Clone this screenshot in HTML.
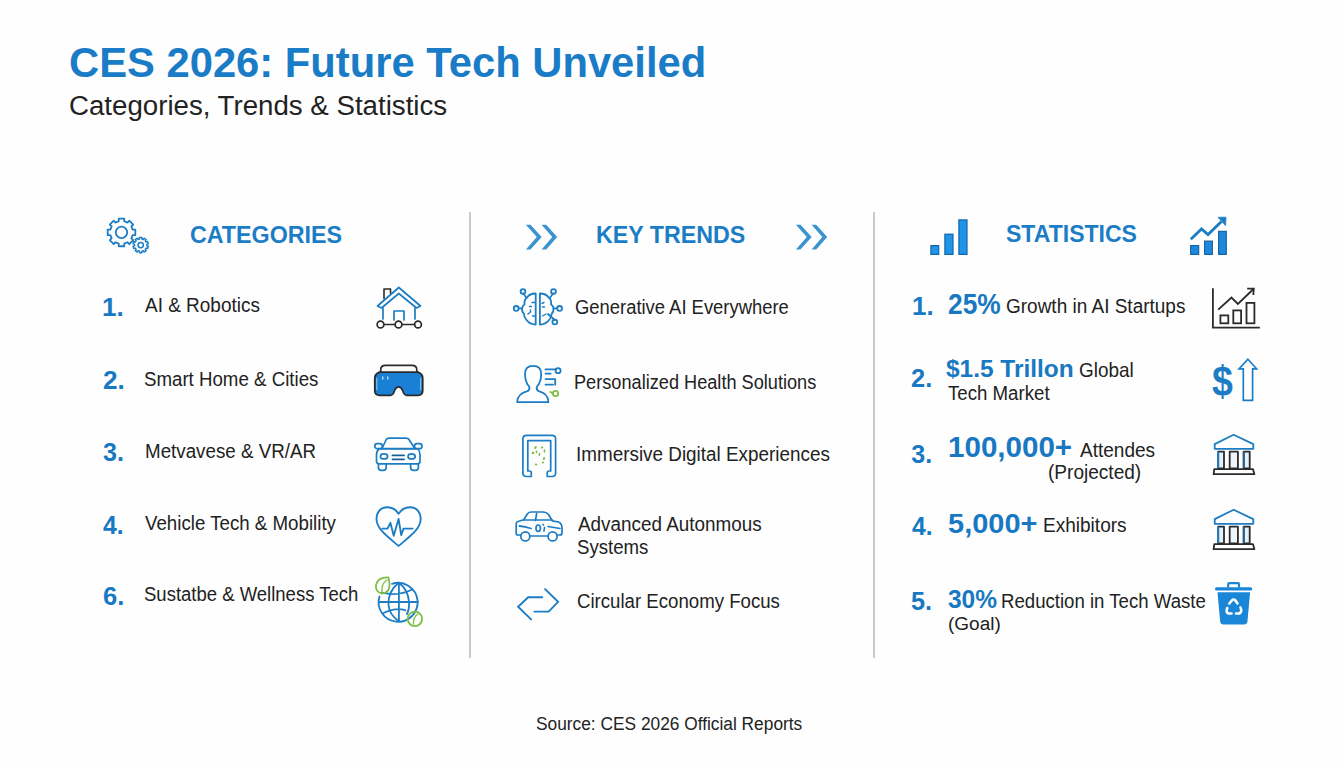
<!DOCTYPE html>
<html><head><meta charset="utf-8"><title>CES 2026: Future Tech Unveiled</title>
<style>
html,body{margin:0;padding:0;}
body{width:1344px;height:768px;overflow:hidden;position:relative;background:#fefefe;font-family:"Liberation Sans",sans-serif;}
.t{position:absolute;white-space:nowrap;line-height:1;transform-origin:0 0;}
.vl{position:absolute;width:2px;background:#cbcbcb;}
svg{position:absolute;left:0;top:0;}
</style></head>
<body>
<div class="vl" style="left:469px;top:212px;height:446px"></div>
<div class="vl" style="left:873px;top:212px;height:446px"></div>
<div class="t" style="left:68.85px;top:41.00px;font-size:43px;font-weight:bold;color:#1a7cc6;transform:scaleX(0.9709)">CES 2026: Future Tech Unveiled</div>
<div class="t" style="left:68.63px;top:91.43px;font-size:28.2px;font-weight:normal;color:#222222;transform:scaleX(0.9812)">Categories, Trends &amp; Statistics</div>
<div class="t" style="left:189.85px;top:222.55px;font-size:24.4px;font-weight:bold;color:#1b7dc6;transform:scaleX(0.9530)">CATEGORIES</div>
<div class="t" style="left:596.48px;top:222.55px;font-size:24.4px;font-weight:bold;color:#1b7dc6;transform:scaleX(0.9521)">KEY TRENDS</div>
<div class="t" style="left:1005.64px;top:222.35px;font-size:24.4px;font-weight:bold;color:#1b7dc6;transform:scaleX(0.9446)">STATISTICS</div>
<div class="t" style="left:102.43px;top:294.84px;font-size:25px;font-weight:bold;color:#1879c2;transform:scaleX(1.0452)">1.</div>
<div class="t" style="left:102.91px;top:367.59px;font-size:25px;font-weight:bold;color:#1879c2;transform:scaleX(1.0462)">2.</div>
<div class="t" style="left:103.25px;top:439.84px;font-size:25px;font-weight:bold;color:#1879c2;transform:scaleX(1.0027)">3.</div>
<div class="t" style="left:103.45px;top:512.59px;font-size:25px;font-weight:bold;color:#1879c2;transform:scaleX(0.9921)">4.</div>
<div class="t" style="left:102.83px;top:583.84px;font-size:25px;font-weight:bold;color:#1879c2;transform:scaleX(1.0246)">6.</div>
<div class="t" style="left:144.80px;top:296.41px;font-size:19.6px;font-weight:normal;color:#222222;transform:scaleX(0.9678)">AI &amp; Robotics</div>
<div class="t" style="left:144.24px;top:370.21px;font-size:19.6px;font-weight:normal;color:#222222;transform:scaleX(0.9532)">Smart Home &amp; Cities</div>
<div class="t" style="left:144.77px;top:441.71px;font-size:19.6px;font-weight:normal;color:#222222;transform:scaleX(0.9574)">Metvavese &amp; VR/AR</div>
<div class="t" style="left:145.00px;top:513.71px;font-size:19.6px;font-weight:normal;color:#222222;transform:scaleX(0.9545)">Vehicle Tech &amp; Mobility</div>
<div class="t" style="left:144.24px;top:585.21px;font-size:19.6px;font-weight:normal;color:#222222;transform:scaleX(0.9444)">Sustatbe &amp; Wellness Tech</div>
<div class="t" style="left:574.90px;top:297.96px;font-size:19.6px;font-weight:normal;color:#222222;transform:scaleX(0.9392)">Generative AI Everywhere</div>
<div class="t" style="left:574.27px;top:372.96px;font-size:19.6px;font-weight:normal;color:#222222;transform:scaleX(0.9269)">Personalized Health Solutions</div>
<div class="t" style="left:575.77px;top:445.21px;font-size:19.6px;font-weight:normal;color:#222222;transform:scaleX(0.9632)">Immersive Digital Experiences</div>
<div class="t" style="left:577.50px;top:515.21px;font-size:19.6px;font-weight:normal;color:#222222;transform:scaleX(0.9632)">Advanced Autonmous</div>
<div class="t" style="left:576.74px;top:537.96px;font-size:19.6px;font-weight:normal;color:#222222;transform:scaleX(0.9500)">Systems</div>
<div class="t" style="left:576.64px;top:592.21px;font-size:19.6px;font-weight:normal;color:#222222;transform:scaleX(0.9509)">Circular Economy Focus</div>
<div class="t" style="left:911.64px;top:293.84px;font-size:25px;font-weight:bold;color:#1879c2;transform:scaleX(1.0395)">1.</div>
<div class="t" style="left:910.99px;top:366.24px;font-size:25px;font-weight:bold;color:#1879c2;transform:scaleX(1.0163)">2.</div>
<div class="t" style="left:911.30px;top:441.54px;font-size:25px;font-weight:bold;color:#1879c2;transform:scaleX(1.0000)">3.</div>
<div class="t" style="left:911.50px;top:514.34px;font-size:25px;font-weight:bold;color:#1879c2;transform:scaleX(0.9894)">4.</div>
<div class="t" style="left:911.09px;top:588.84px;font-size:25px;font-weight:bold;color:#1879c2;transform:scaleX(1.0108)">5.</div>
<div class="t" style="left:947.97px;top:289.99px;font-size:28.6px;font-weight:bold;color:#1879c2;transform:scaleX(0.9209)">25%</div>
<div class="t" style="left:946.29px;top:357.72px;font-size:23.6px;font-weight:bold;color:#1879c2;transform:scaleX(1.0362)">$1.5 Trillon</div>
<div class="t" style="left:947.77px;top:432.75px;font-size:29px;font-weight:bold;color:#1879c2;transform:scaleX(1.0194)">100,000+</div>
<div class="t" style="left:947.97px;top:509.60px;font-size:28px;font-weight:bold;color:#1879c2;transform:scaleX(1.0355)">5,000+</div>
<div class="t" style="left:947.74px;top:585.82px;font-size:26.2px;font-weight:bold;color:#1879c2;transform:scaleX(0.9355)">30%</div>
<div class="t" style="left:1006.03px;top:296.51px;font-size:19.6px;font-weight:normal;color:#222222;transform:scaleX(0.9690)">Growth in AI Startups</div>
<div class="t" style="left:1078.54px;top:360.54px;font-size:19.8px;font-weight:normal;color:#222222;transform:scaleX(0.9564)">Global</div>
<div class="t" style="left:948.42px;top:383.91px;font-size:19.6px;font-weight:normal;color:#222222;transform:scaleX(0.9520)">Tech Market</div>
<div class="t" style="left:1080.20px;top:440.91px;font-size:19.6px;font-weight:normal;color:#222222;transform:scaleX(0.9713)">Attendes</div>
<div class="t" style="left:1047.63px;top:463.01px;font-size:19.6px;font-weight:normal;color:#222222;transform:scaleX(0.9722)">(Projected)</div>
<div class="t" style="left:1043.05px;top:516.21px;font-size:19.6px;font-weight:normal;color:#222222;transform:scaleX(0.9714)">Exhibitors</div>
<div class="t" style="left:1000.68px;top:591.51px;font-size:19.6px;font-weight:normal;color:#222222;transform:scaleX(0.9498)">Reduction in Tech Waste</div>
<div class="t" style="left:947.71px;top:614.15px;font-size:19.2px;font-weight:normal;color:#222222;transform:scaleX(0.9902)">(Goal)</div>
<div class="t" style="left:1212.46px;top:360.20px;font-size:43px;font-weight:bold;color:#1c7dc4;transform:scaleX(0.8734)">$</div>
<div class="t" style="left:535.98px;top:713.95px;font-size:19.2px;font-weight:normal;color:#222222;transform:scaleX(0.9023)">Source: CES 2026 Official Reports</div>
<svg width="1344" height="768" viewBox="0 0 1344 768">
<g fill="none" stroke="#1c7dc4" stroke-width="1.8" stroke-linejoin="round"><path d="M118.73,221.24 L118.75,218.57 L124.25,218.57 L124.27,221.24 L127.43,222.55 L129.33,220.68 L133.22,224.57 L131.35,226.47 L132.66,229.63 L135.33,229.65 L135.33,235.15 L132.66,235.17 L131.35,238.33 L133.22,240.23 L129.33,244.12 L127.43,242.25 L124.27,243.56 L124.25,246.23 L118.75,246.23 L118.73,243.56 L115.57,242.25 L113.67,244.12 L109.78,240.23 L111.65,238.33 L110.34,235.17 L107.67,235.15 L107.67,229.65 L110.34,229.63 L111.65,226.47 L109.78,224.57 L113.67,220.68 L115.57,222.55 Z"/><circle cx="121.5" cy="232.4" r="5.7"/><path d="M139.50,239.02 L139.50,237.49 L141.90,237.49 L141.90,239.02 L143.30,239.47 L144.20,238.24 L146.14,239.66 L145.25,240.88 L146.11,242.08 L147.56,241.60 L148.31,243.90 L146.86,244.36 L146.86,245.84 L148.31,246.30 L147.56,248.60 L146.11,248.12 L145.25,249.32 L146.14,250.54 L144.20,251.96 L143.30,250.73 L141.90,251.18 L141.90,252.71 L139.50,252.71 L139.50,251.18 L138.10,250.73 L137.20,251.96 L135.26,250.54 L136.15,249.32 L135.29,248.12 L133.84,248.60 L133.09,246.30 L134.54,245.84 L134.54,244.36 L133.09,243.90 L133.84,241.60 L135.29,242.08 L136.15,240.88 L135.26,239.66 L137.20,238.24 L138.10,239.47 Z" stroke-width="1.5" fill="#fefefe"/><circle cx="140.7" cy="245.1" r="2.7" stroke-width="1.5"/></g>
<g transform="translate(368,280)" fill="none" stroke-width="1.7" stroke-linejoin="round" stroke-linecap="round"><path d="M9.5,26 L30.8,7.5 L52.5,26 L48.5,28 L30.8,13.5 L13.5,28 Z" stroke="#1c7dc4"/><path d="M16,18.5 V9 H22.5 V13" stroke="#2b2b2b" stroke-width="1.6"/><path d="M15,28 V39 M47,28 V39 M26,40 V31 H36 V40" stroke="#1c7dc4"/><path d="M16,44.5 H27 M34,44.5 H46.5" stroke="#2b2b2b" stroke-width="1.7"/><circle cx="12.5" cy="44.5" r="3.4" stroke="#2b2b2b"/><circle cx="30.5" cy="44.5" r="3.4" stroke="#2b2b2b"/><circle cx="50" cy="44.5" r="3.4" stroke="#2b2b2b"/></g>
<g transform="translate(368,355)" stroke-linejoin="round"><path d="M12.7,17.2 V15 Q12.7,10.4 17.5,10.4 H44 Q48.8,10.4 48.8,15 V17.2" fill="none" stroke="#2b2b2b" stroke-width="1.7"/><path d="M11.5,17.2 H50 Q54.7,19 54.7,23 V35.5 Q54.7,40.3 50,40.3 H38.5 Q36.6,40.3 35.6,38 L34.6,35.5 Q33,31.9 30.6,31.9 Q28.2,31.9 26.6,35.5 L25.6,38 Q24.6,40.3 22.7,40.3 H11.5 Q6.8,40.3 6.8,35.5 V23 Q6.8,19 11.5,17.2 Z" fill="#1a80d6" stroke="#2b2b2b" stroke-width="1.8"/><path d="M8.8,23 V35 M52.7,23 V35" stroke="#cfe6f8" stroke-width="0.7"/><path d="M14.8,21.5 V24.5 M19.8,21.5 V24.5" stroke="#e8f4ff" stroke-width="1.1"/></g>
<g transform="translate(368,430)" fill="none" stroke="#1c7dc4" stroke-width="1.7" stroke-linejoin="round" stroke-linecap="round"><path d="M14,18.5 L18,10 Q19,8.1 21.5,8.1 H37.8 Q40.3,8.1 41.3,10 L46.8,18.5 Z"/><rect x="6.8" y="13.7" width="7.5" height="5" rx="2.5"/><rect x="46.5" y="13.7" width="7.5" height="5" rx="2.5"/><path d="M11,19 H50 Q52,21 52,25 V31.5 Q52,33.8 49.5,33.8 H11 Q8.5,33.8 8.5,31.5 V25 Q8.5,21 11,19 Z"/><ellipse cx="16" cy="26.4" rx="3.6" ry="2.5"/><ellipse cx="43.6" cy="26.4" rx="3.6" ry="2.5"/><path d="M24.4,25.4 H36.1 M24.4,29.3 H36.1" stroke="#1b5f96"/><path d="M10.4,33.8 V37.5 Q10.4,40.3 13.5,40.3 H15 Q18.2,40.3 18.2,37.5 V33.8"/><path d="M42.6,33.8 V37.5 Q42.6,40.3 45.7,40.3 H47.2 Q50.4,40.3 50.4,37.5 V33.8"/></g>
<g transform="translate(368,500)" fill="none" stroke="#1c7dc4" stroke-width="1.85" stroke-linejoin="round" stroke-linecap="round"><path d="M30.6,13.7 C27,8 22,7.2 19,7.2 C12.5,7.2 8.5,12.5 8.5,19 C8.5,29 20,37 30.6,45.9 C41.2,37 52.7,29 52.7,19 C52.7,12.5 48.7,7.2 42.2,7.2 C39.2,7.2 34.2,8 30.6,13.7 Z"/><path d="M14.3,28.6 H19.5 L22.4,22.8 L25.7,35.8 L30.6,18.9 L33.2,35.1 L35.5,28.6 H44.6"/></g>
<g transform="translate(368,572)" fill="none" stroke-width="1.8" stroke-linecap="round"><path d="M24,11.8 A19.5,19.5 0 1 1 11.5,24.5" stroke="#1c7dc4"/><path d="M11.2,30 H50 M30.9,10.8 V49 M14,20.7 Q30.6,24.5 44,17.5 M15.5,41 Q28,35 37.5,38.3" stroke="#1c7dc4"/><path d="M30.6,10.8 Q19.5,20 20.5,33 Q21.5,43 30.6,49 M30.6,10.8 Q40,17 41,30 Q41.5,37 39,42" stroke="#1c7dc4"/><path d="M20.5,5.5 Q10,5 8,13 Q7,20 14,21.5 Q21.5,21 21.5,13 Q21.5,9 20.5,5.5 Z" stroke="#7cc043"/><path d="M19,8 Q13,12 14,20" stroke="#7cc043" stroke-width="1.3"/><circle cx="46.9" cy="46.9" r="7.2" stroke="#7cc043"/><path d="M50,42 Q45,45 45.5,52" stroke="#7cc043" stroke-width="1.3"/></g>
<g transform="translate(518,215)" fill="#3993d0"><path d="M7.9,9.7 H12.5 L23.7,22 L12.5,34.6 H7.9 L18.8,22 Z"/><path d="M23.6,9.7 H28.2 L39.2,22 L28.2,34.6 H23.6 L34.3,22 Z"/></g>
<g transform="translate(788,215)" fill="#3993d0"><path d="M7.9,9.7 H12.5 L23.7,22 L12.5,34.6 H7.9 L18.8,22 Z"/><path d="M23.6,9.7 H28.2 L39.2,22 L28.2,34.6 H23.6 L34.3,22 Z"/></g>
<g transform="translate(508,283)" fill="none" stroke="#1c7dc4" stroke-width="1.8" stroke-linejoin="round" stroke-linecap="round"><path d="M27.7,10.5 V41.5 Q22,41.5 18.5,37 Q16,34 16,31 Q13.8,29 14,25.5 Q14.5,22.5 16.5,21.5 Q16,16.5 19,14.5 Q21.5,10.5 27.7,10.5 Z"/><path d="M31.9,10.5 V41.5 Q37.6,41.5 41.1,37 Q43.6,34 43.6,31 Q45.8,29 45.6,25.5 Q45.1,22.5 43.1,21.5 Q43.6,16.5 40.6,14.5 Q38.1,10.5 31.9,10.5 Z"/><path d="M15,10.2 L18.5,14.8 M10.8,25.4 H14 M45.5,10.2 L42,14.5 M45.6,25.4 H49 M46.8,37 L40,31"/><circle cx="15" cy="8.5" r="2.4"/><circle cx="8.2" cy="25.4" r="2.4"/><circle cx="45.5" cy="8.5" r="2.4"/><circle cx="51.6" cy="25.4" r="2.4"/><circle cx="46.8" cy="39" r="2.4"/><path d="M24,19.5 H26.5 M21.5,23.5 H23.5 M20,31 L22.5,29 V27 M24.5,33 H27 M34,20.5 L36,19.5 M34.5,24 H36.5 M34.5,33 L38,31" stroke-width="1.4"/></g>
<g transform="translate(510,358)" fill="none" stroke="#1c7dc4" stroke-width="1.8" stroke-linejoin="round" stroke-linecap="round"><path d="M23.1,7.8 Q15,7.8 15,16 Q15,24 19.2,28.5 Q20.3,31.5 17.5,33.2 Q7.5,35.5 7.2,44.2 H38.4 Q38.2,35.5 28.7,33.2 Q25.9,31.5 27,28.5 Q31.2,24 31.2,16 Q31.2,7.8 23.1,7.8 Z"/><path d="M35.5,11.4 H45.6 M35.5,15.6 H40.7 M35.5,21.1 H45.2 V26.7 M35.5,26.7 H43"/><circle cx="48.1" cy="12.7" r="2.5"/><circle cx="45.5" cy="35.5" r="2.7" stroke="#7cc043"/><path d="M42.8,35.2 L40.3,34" stroke="#7cc043"/></g>
<g transform="translate(512,428)" fill="none" stroke="#1c7dc4" stroke-width="1.7" stroke-linejoin="round" stroke-linecap="round"><path d="M19.3,48.5 H14.5 Q10.9,48.5 10.9,45 V11 Q10.9,7.4 14.5,7.4 H40 Q43.6,7.4 43.6,11 V45 Q43.6,48.5 40,48.5 H35.2 V45 Q35.2,43 37,43 H38.7 V12.7 H15.8 V43 H17.5 Q19.3,43 19.3,45 Z"/></g><g transform="translate(512,428)" fill="#7cc043"><ellipse cx="23.5" cy="19.5" rx="1.1" ry="1.6" transform="rotate(30 23.5 19.5)"/><ellipse cx="21" cy="25" rx="1.3" ry="1.2"/><ellipse cx="24.5" cy="24" rx="0.9" ry="1.4"/><ellipse cx="27.5" cy="26.5" rx="0.9" ry="1.7" transform="rotate(20 27.5 26.5)"/><ellipse cx="30" cy="19.5" rx="1.3" ry="1.1"/><ellipse cx="32.5" cy="23" rx="0.9" ry="1.8"/><ellipse cx="32" cy="30.5" rx="1" ry="1.6" transform="rotate(15 32 30.5)"/><ellipse cx="31" cy="34.5" rx="1.1" ry="1"/><ellipse cx="24" cy="36.5" rx="1.2" ry="1.1"/></g>
<g transform="translate(510,500)" fill="none" stroke="#1c7dc4" stroke-width="1.7" stroke-linejoin="round" stroke-linecap="round"><path d="M10.5,35 H7.5 Q6.2,35 6.2,33 V23.5 Q6.2,22 8,21.5 L13.7,19.8 L17.5,13.8 Q18.9,12 21.5,12 H33.2 Q36.5,12 38.5,14.5 L42.3,20.8 L48.5,22 Q52,23.5 52,28 V33 Q52,35 50,35 H47.5"/><path d="M19.8,36 H38"/><path d="M13.7,20 H42.3 M26.7,13.5 L25.4,20.5"/><path d="M9.5,26 Q15,26.5 21,28.5" stroke-width="1.8"/><path d="M38,26.5 Q44,27.5 50,28.5" stroke-width="1.5"/><ellipse cx="28.2" cy="28.2" rx="2.2" ry="3.2"/><path d="M33,24.5 L33.5,25 M34.5,27.5 L34,31"/><circle cx="15.3" cy="36.4" r="4.5"/><circle cx="42.6" cy="36.4" r="4.5"/></g>
<g transform="translate(510,580)" fill="none" stroke="#1c7dc4" stroke-width="1.9" stroke-linejoin="miter" stroke-linecap="round"><path d="M32.2,17.2 H18.2 L8.1,26.7 L21.1,39.4"/><path d="M35.1,9.1 L48.1,21.8 L38.7,31.6 H24.4"/></g>
<g transform="translate(920,210)" fill="#2094e6" stroke="#0f66ad" stroke-width="1.2"><rect x="10.9" y="35.6" width="7.8" height="8.8"/><rect x="24.9" y="24.2" width="8.1" height="20.2"/><rect x="38.9" y="9.9" width="8.1" height="34.5"/></g>
<g transform="translate(1180,210)" ><g fill="#1e88dc" stroke="#10609f" stroke-width="1.1"><rect x="10.6" y="35.6" width="8.1" height="8.8"/><rect x="24.6" y="31.1" width="7.8" height="13.3"/><rect x="38.6" y="21.3" width="7.7" height="23.1"/></g><path d="M10.8,29.2 L21.5,19 L28,24.6 L41.5,11.5" fill="none" stroke="#1c7dc4" stroke-width="2.8" stroke-linejoin="miter"/><path d="M38,7.3 L46,7.2 L45.6,15.6 Z" fill="#1c7dc4" stroke="#1c7dc4" stroke-width="0.8" stroke-linejoin="round"/></g>
<g transform="translate(1205,280)" fill="none" stroke="#2b2b2b" stroke-width="1.8" stroke-linejoin="miter"><path d="M7.9,8.2 V47.6 H54.8"/><rect x="15.4" y="35.4" width="7.9" height="7.9"/><rect x="28.3" y="30.4" width="7.8" height="12.9"/><rect x="41.5" y="22.9" width="7.9" height="20.4"/><path d="M13.2,29.7 L26.5,17.5 L32.9,24 L48.5,9"/><path d="M42.2,8.6 H48.8 L48.3,15"/></g>
<g transform="translate(1205,352)" ><path d="M42.9,7.2 L51.6,16.8 L47.6,16.8 L47.6,48.3 L38.3,48.3 L38.3,16.8 L34,16.8 Z" fill="none" stroke="#1c7dc4" stroke-width="1.7" stroke-linejoin="miter"/></g>
<g transform="translate(1205,428)" fill="none" stroke-width="1.8" stroke-linejoin="round"><path d="M28.6,6.8 L48.3,16.1 V20.8 H9.7 V16.1 Z" stroke="#1c7dc4"/><rect x="13.2" y="23.6" width="5.8" height="16.8" stroke="#2b2b2b" fill="#e3f1fb"/><path d="M13.2,23.6 V40.4" stroke="#1c7dc4"/><rect x="24.7" y="23.6" width="8.2" height="16.8" stroke="#2b2b2b" fill="#eef6fc"/><rect x="38.7" y="23.6" width="6" height="16.8" stroke="#2b2b2b" fill="#e3f1fb"/><path d="M38.7,23.6 V40.4" stroke="#1f5f93"/><path d="M9.3,41.2 H48 L49.4,46.2 H8.6 Z" stroke="#2b2b2b"/></g>
<g transform="translate(1205,503)" fill="none" stroke-width="1.8" stroke-linejoin="round"><path d="M28.6,6.8 L48.3,16.1 V20.8 H9.7 V16.1 Z" stroke="#1c7dc4"/><rect x="13.2" y="23.6" width="5.8" height="16.8" stroke="#2b2b2b" fill="#e3f1fb"/><path d="M13.2,23.6 V40.4" stroke="#1c7dc4"/><rect x="24.7" y="23.6" width="8.2" height="16.8" stroke="#2b2b2b" fill="#eef6fc"/><rect x="38.7" y="23.6" width="6" height="16.8" stroke="#2b2b2b" fill="#e3f1fb"/><path d="M38.7,23.6 V40.4" stroke="#1f5f93"/><path d="M9.3,41.2 H48 L49.4,46.2 H8.6 Z" stroke="#2b2b2b"/></g>
<g transform="translate(1205,575)" ><rect x="10" y="12.2" width="37.2" height="3.3" rx="1.6" fill="#1a86d8"/><path d="M23.2,12.5 V9.2 Q23.2,8.2 24.2,8.2 H33 Q34,8.2 34,9.2 V12.5" fill="none" stroke="#1a86d8" stroke-width="2.2"/><path d="M12.5,17.2 H45.1 L42.4,47 Q42.1,49.4 39.6,49.4 H18 Q15.5,49.4 15.2,47 Z" fill="#1a86d8"/><g fill="none" stroke="#ffffff" stroke-width="2.6" stroke-linecap="round" stroke-linejoin="round"><path d="M24.3,28.5 L26.8,25.5 Q28.6,23.6 30.4,25.5 L32.5,28.5"/><path d="M35.5,32.5 Q37.5,36.5 34.5,38.5 L31,38.5"/><path d="M26.5,38.5 H23.5 Q20.5,37.5 22.3,33"/></g></g>
</svg>
</body></html>
